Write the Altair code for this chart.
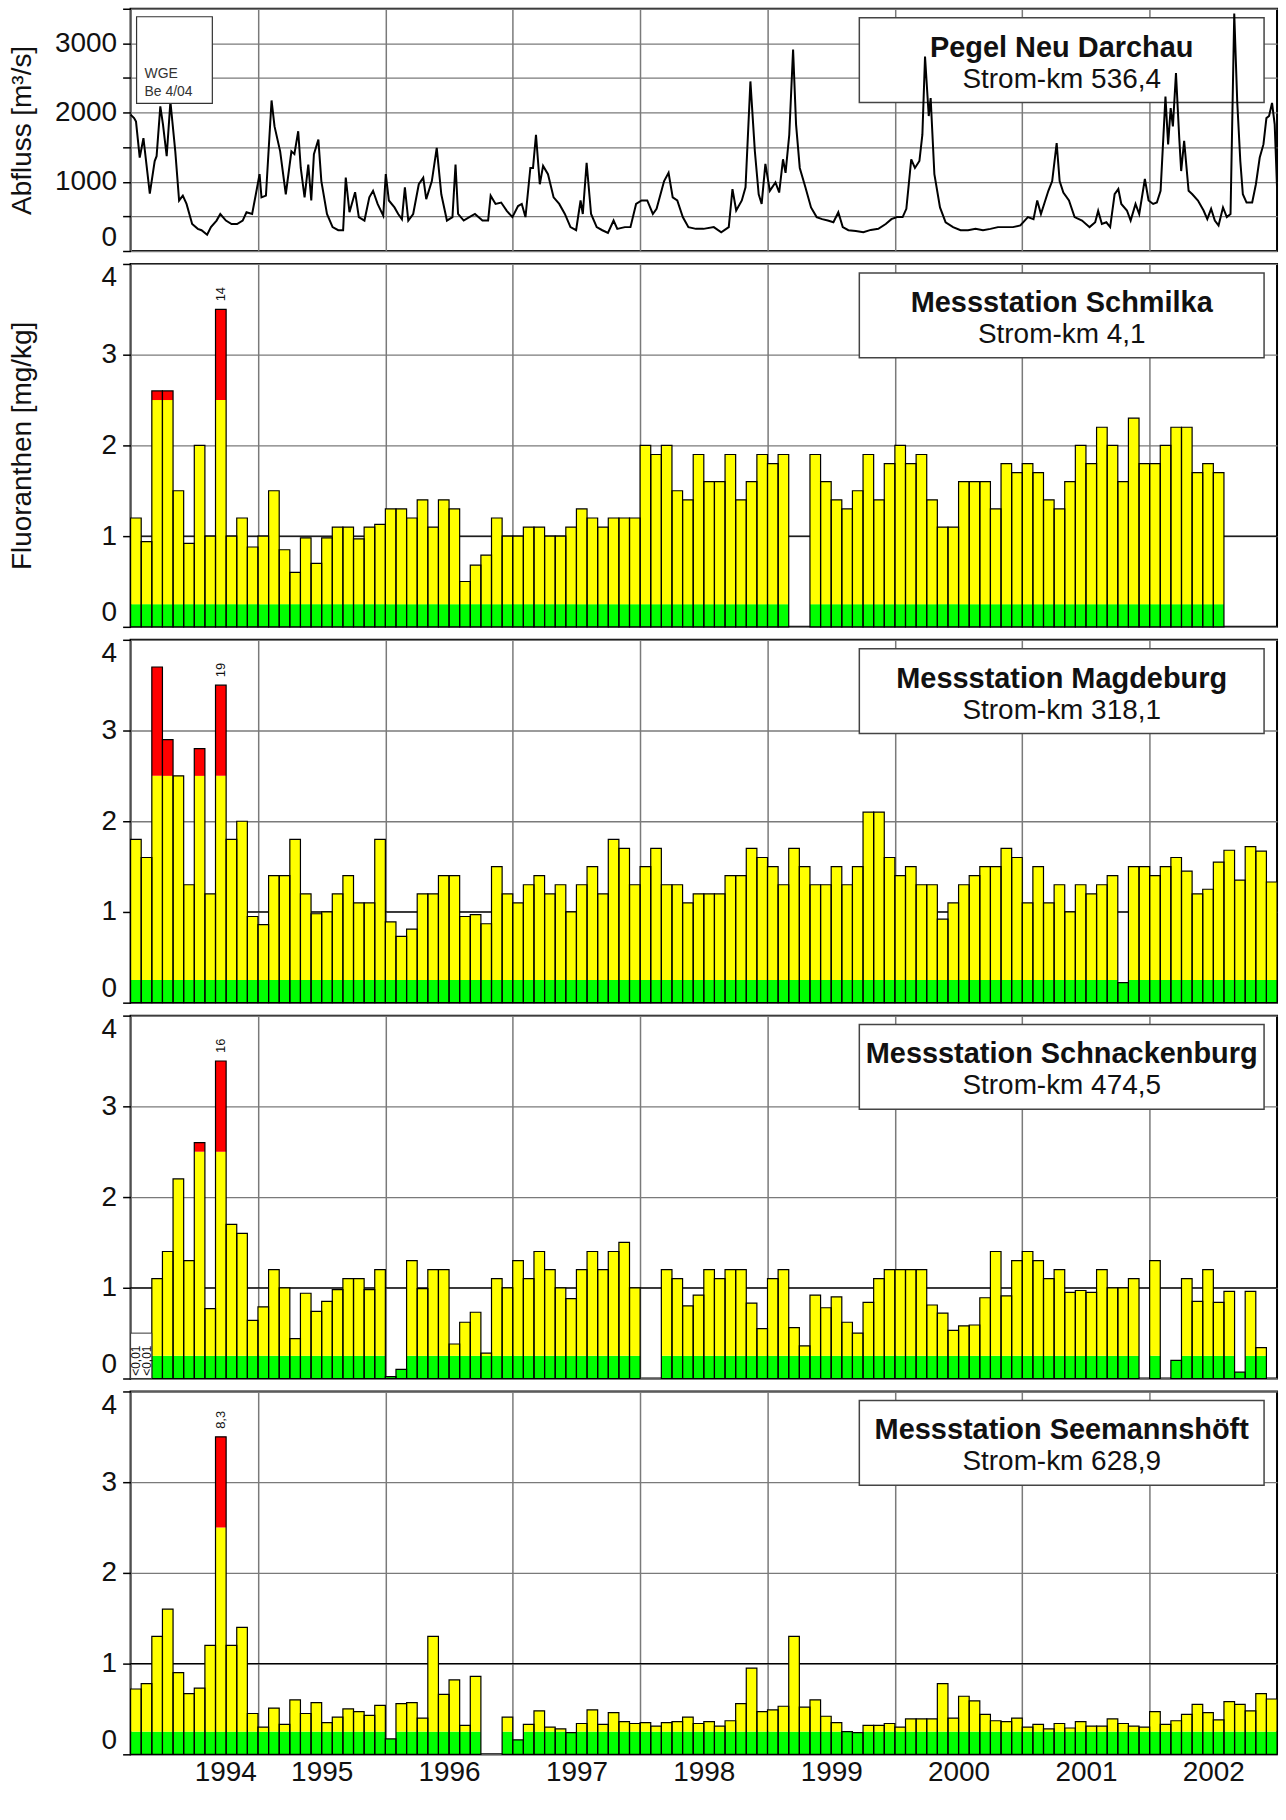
import altair as alt
import pandas as pd

FONT = "Liberation Sans"
N_MONTHS = 108
PANEL_W = 1150
TOP_H = 243
BAR_H = 364
CAP = 3.5
GRID_GRAY = "#7a7a7a"
Q_MAX = 3500
C_MAX = 4

years = [1994, 1995, 1996, 1997, 1998, 1999, 2000, 2001, 2002]

# ---- discharge, Pegel Neu Darchau (months since Jan 1994, m3/s) ----
q_month = [0, 0.33, 0.51, 0.86, 1.21, 1.81, 2.27, 2.45, 2.80, 3.05, 3.40, 3.75, 4.21, 4.57,
           4.92, 5.27, 5.80, 6.33, 6.68, 7.21, 7.57, 8.10, 8.45, 8.98, 9.51, 10.03, 10.56,
           10.92, 11.45, 11.80, 12.15, 12.33, 12.75, 13.28, 13.56, 14.09, 14.62, 15.15, 15.43,
           15.79, 16.03, 16.39, 16.74, 17.02, 17.27, 17.69, 17.97, 18.50, 19.03, 19.56, 20.02,
           20.27, 20.62, 21.15, 21.50, 22.03, 22.49, 22.84, 23.27, 23.80, 24.04, 24.33, 24.86,
           25.21, 25.56, 25.84, 26.16, 26.62, 27.15, 27.57, 27.85, 28.38, 28.84, 29.27, 29.80,
           30.32, 30.61, 30.85, 31.38, 31.91, 32.44, 33.15, 33.68, 33.92, 34.38, 34.91, 35.44,
           35.97, 36.50, 36.85, 37.20, 37.66, 37.91, 38.19, 38.55, 38.86, 39.32, 39.85, 40.38,
           40.91, 41.44, 41.97, 42.39, 42.60, 42.96, 43.38, 43.91, 44.44, 44.97, 45.50, 45.85,
           46.56, 47.09, 47.62, 48.14, 48.67, 49.20, 49.55, 50.26, 50.68, 51.07, 51.50, 52.02,
           52.55, 53.26, 53.97, 54.94, 55.64, 56.35, 56.70, 57.05, 57.58, 57.93, 58.39, 58.81,
           59.17, 59.45, 59.80, 60.22, 60.75, 61.10, 61.46, 61.70, 62.05, 62.41, 62.69, 63.04,
           63.57, 64.10, 64.63, 65.15, 65.68, 66.21, 66.67, 67.09, 67.62, 68.32, 69.03, 69.73,
           70.44, 71.14, 71.67, 72.20, 72.73, 73.08, 73.54, 73.89, 74.31, 74.59, 74.84, 75.19,
           75.37, 75.72, 76.25, 76.78, 77.48, 78.19, 78.89, 79.60, 80.30, 81.00, 81.71, 82.41,
           83.12, 83.82, 84.53, 85.06, 85.41, 85.76, 86.46, 86.82, 87.24, 87.52, 87.87, 88.40,
           88.93, 89.63, 90.34, 90.87, 91.15, 91.50, 91.92, 92.28, 92.70, 93.05, 93.33, 93.86,
           94.21, 94.67, 95.02, 95.55, 95.90, 96.33, 96.68, 97.03, 97.49, 97.74, 97.98, 98.19,
           98.48, 98.79, 98.97, 99.25, 99.67, 100.02, 100.55, 101.08, 101.43, 101.79, 102.14,
           102.49, 102.91, 103.27, 103.62, 103.97, 104.25, 104.54, 104.78, 105.13, 105.66,
           106.01, 106.37, 106.72, 107.00, 107.25, 107.53, 107.78, 108.0]
q_value = [1970, 1920, 1870, 1350, 1630, 830, 1300, 1370, 2090, 1830, 1370, 2160, 1440, 730,
           800, 680, 390, 320, 300, 235, 345, 440, 535, 440, 390, 390, 440,
           560, 535, 820, 1110, 775, 800, 2175, 1800, 1440, 820, 1440, 1400,
           1730, 1200, 775, 1250, 730, 1400, 1610, 1010, 535, 345, 300, 300,
           1060, 560, 850, 490, 440, 775, 870, 680, 510, 1110, 730, 630,
           535, 460, 920, 440, 535, 965, 1060, 750, 1010, 1490, 820, 440,
           490, 1250, 535, 440, 490, 535, 440, 440, 800, 680, 700, 580,
           490, 650, 680, 490, 1200, 1200, 1680, 965, 1230, 1110, 775, 680,
           535, 345, 300, 730, 535, 1275, 535, 345, 300, 260, 440, 320,
           345, 345, 680, 730, 730, 535, 610, 1010, 1130, 775, 730, 490,
           345, 320, 320, 345, 270, 345, 895, 585, 730, 920, 2450, 1440,
           820, 680, 1260, 870, 990, 845, 1325, 1130, 1680, 2910, 1830, 1200,
           920, 630, 490, 460, 440, 415, 560, 345, 300, 290, 270, 305,
           320, 390, 460, 490, 490, 610, 1325, 1200, 1300, 1680, 2810, 1950,
           2210, 1110, 630, 415, 345, 300, 300, 320, 300, 320, 345, 345,
           345, 370, 490, 460, 730, 535, 870, 1010, 1560, 1010, 845, 730,
           490, 440, 345, 415, 580, 390, 415, 345, 820, 895, 680, 585,
           440, 680, 535, 1040, 730, 680, 700, 870, 2230, 1540, 2065, 1800,
           2570, 1630, 1155, 1590, 870, 820, 730, 585, 460, 610, 440,
           370, 630, 490, 535, 3430, 2160, 1300, 820, 700, 700,
           965, 1350, 1540, 1920, 1950, 2140, 1830, 920]

gauge_name = "Pegel Neu Darchau"
gauge_km = "Strom-km 536,4"

station_names = ["Messstation Schmilka", "Messstation Magdeburg",
                 "Messstation Schnackenburg", "Messstation Seemannshöft"]
station_km = ["Strom-km 4,1", "Strom-km 318,1", "Strom-km 474,5", "Strom-km 628,9"]

# ---- Fluoranthen, monthly values Jan 1994 .. Dec 2002 (mg/kg) ----
schmilka = [1.2, 0.94, 2.6, 2.6, 1.5, 0.92, 2.0, 1.0, 14, 1.0, 1.2, 0.88,
            1.0, 1.5, 0.85, 0.6, 0.98, 0.7, 0.98, 1.1, 1.1, 0.97, 1.1, 1.13,
            1.3, 1.3, 1.2, 1.4, 1.1, 1.4, 1.3, 0.5, 0.68, 0.79, 1.2, 1.0,
            1.0, 1.1, 1.1, 1.0, 1.0, 1.1, 1.3, 1.2, 1.1, 1.2, 1.2, 1.2,
            2.0, 1.9, 2.0, 1.5, 1.4, 1.9, 1.6, 1.6, 1.9, 1.4, 1.6, 1.9,
            1.8, 1.9, None, None, 1.9, 1.6, 1.4, 1.3, 1.5, 1.9, 1.4, 1.8,
            2.0, 1.8, 1.9, 1.4, 1.1, 1.1, 1.6, 1.6, 1.6, 1.3, 1.8, 1.7,
            1.8, 1.7, 1.4, 1.3, 1.6, 2.0, 1.8, 2.2, 2.0, 1.6, 2.3, 1.8,
            1.8, 2.0, 2.2, 2.2, 1.7, 1.8, 1.7, None, None, None, None, None]
magdeburg = [1.8, 1.6, 3.7, 2.9, 2.5, 1.3, 2.8, 1.2, 19, 1.8, 2.0, 0.95,
             0.86, 1.4, 1.4, 1.8, 1.2, 0.98, 1.0, 1.2, 1.4, 1.1, 1.1, 1.8,
             0.89, 0.73, 0.81, 1.2, 1.2, 1.4, 1.4, 0.95, 0.97, 0.87, 1.5, 1.2,
             1.1, 1.3, 1.4, 1.2, 1.3, 1.0, 1.3, 1.5, 1.2, 1.8, 1.7, 1.3,
             1.5, 1.7, 1.3, 1.3, 1.1, 1.2, 1.2, 1.2, 1.4, 1.4, 1.7, 1.6,
             1.5, 1.3, 1.7, 1.5, 1.3, 1.3, 1.5, 1.3, 1.5, 2.1, 2.1, 1.6,
             1.4, 1.5, 1.3, 1.3, 0.92, 1.1, 1.3, 1.4, 1.5, 1.5, 1.7, 1.6,
             1.1, 1.5, 1.1, 1.3, 1.0, 1.3, 1.2, 1.3, 1.4, 0.22, 1.5, 1.5,
             1.4, 1.5, 1.6, 1.45, 1.2, 1.25, 1.55, 1.68, 1.35, 1.72, 1.67, 1.33]
schnackenburg = ["<0,01", "<0,01", 1.1, 1.4, 2.2, 1.3, 2.6, 0.77, 16, 1.7, 1.6, 0.64,
                 0.79, 1.2, 1.0, 0.44, 0.94, 0.74, 0.85, 0.98, 1.1, 1.1, 0.98, 1.2,
                 0.02, 0.1, 1.3, 0.99, 1.2, 1.2, 0.38, 0.62, 0.73, 0.28, 1.1, 1.0,
                 1.3, 1.1, 1.4, 1.2, 1.0, 0.88, 1.2, 1.4, 1.2, 1.4, 1.5, 1.0,
                 None, None, 1.2, 1.1, 0.8, 0.92, 1.2, 1.1, 1.2, 1.2, 0.83, 0.55,
                 1.1, 1.2, 0.56, 0.36, 0.92, 0.78, 0.9, 0.62, 0.5, 0.84, 1.1, 1.2,
                 1.2, 1.2, 1.2, 0.81, 0.72, 0.53, 0.58, 0.59, 0.89, 1.4, 0.91, 1.3,
                 1.4, 1.3, 1.1, 1.2, 0.95, 0.97, 0.95, 1.2, 1.0, 1.0, 1.1, None,
                 1.3, None, 0.2, 1.1, 0.85, 1.2, 0.84, 0.96, 0.07, 0.96, 0.34, None]
seemannshoeft = [0.72, 0.78, 1.3, 1.6, 0.9, 0.67, 0.73, 1.2, 8.3, 1.2, 1.4, 0.45,
                 0.3, 0.51, 0.33, 0.6, 0.45, 0.57, 0.35, 0.41, 0.5, 0.47, 0.43, 0.54,
                 0.17, 0.56, 0.57, 0.4, 1.3, 0.66, 0.82, 0.32, 0.86, None, None, 0.41,
                 0.16, 0.33, 0.48, 0.3, 0.28, 0.24, 0.34, 0.49, 0.33, 0.46, 0.36, 0.34,
                 0.35, 0.31, 0.35, 0.36, 0.41, 0.34, 0.36, 0.31, 0.37, 0.56, 0.95, 0.47,
                 0.49, 0.53, 1.3, 0.52, 0.6, 0.42, 0.35, 0.25, 0.24, 0.32, 0.32, 0.34,
                 0.3, 0.39, 0.39, 0.39, 0.78, 0.4, 0.64, 0.59, 0.44, 0.37, 0.36, 0.4,
                 0.3, 0.33, 0.28, 0.34, 0.29, 0.36, 0.31, 0.31, 0.39, 0.34, 0.31, 0.3,
                 0.47, 0.33, 0.37, 0.44, 0.55, 0.46, 0.38, 0.58, 0.55, 0.48, 0.67, 0.61]

band_names = ["g", "y", "r"]
band_limits = [0.25, 2.5, C_MAX]
band_colors = ["#00ff00", "#ffff00", "#ff0000"]

XSCALE = alt.Scale(domain=[0, N_MONTHS], nice=False, zero=False)
YBAR = alt.Scale(domain=[0, C_MAX], nice=False, zero=True)
YTOP = alt.Scale(domain=[0, Q_MAX], nice=False, zero=True)
YEAR_TICKS = [12 * k for k in range(len(years))]


def fmt(v):
    return ("%g" % v).replace(".", ",")


def px_x(p):
    return p / PANEL_W * N_MONTHS


def px_y(p, top, height):
    return top - p / height * top


def x_axis(show_labels):
    return alt.Axis(values=YEAR_TICKS, grid=True, gridColor=GRID_GRAY, gridWidth=1.5,
                    ticks=False, domain=False, labels=show_labels,
                    labelExpr="'' + (%d + datum.value / 12)" % years[0],
                    labelOffset=PANEL_W / N_MONTHS * 6, labelFont=FONT, labelFontSize=28,
                    labelColor="#111111", labelPadding=4, title=None)


def y_axis(values, title, title_color="#111111", **kw):
    return alt.Axis(values=values, title=title, grid=True, gridWidth=1.3, gridColor=GRID_GRAY,
                    domain=False, tickSize=8, tickWidth=1.5, tickColor="black",
                    labelFont=FONT, labelFontSize=28, labelFlush=True,
                    labelColor="#111111", labelPadding=6, titleFont=FONT, titleFontSize=28,
                    titleFontWeight="normal", titleColor=title_color, titlePadding=14,
                    minExtent=80, maxExtent=80, **kw)


def info_box(name, km, yscale, top, height, xa, ya):
    df = pd.DataFrame({"name": [name], "km": [km],
                       "x0": [px_x(731)], "x1": [px_x(1137)], "xc": [px_x(934)],
                       "y0": [px_y(9, top, height)], "y1": [px_y(94, top, height)],
                       "yt": [px_y(39, top, height)], "yk": [px_y(71, top, height)]})
    base = alt.Chart(df)
    box = base.mark_rect(fill="white", stroke="#444444", strokeWidth=1.5).encode(
        x=alt.X("x0:Q", scale=XSCALE, axis=xa), x2="x1:Q",
        y=alt.Y("y0:Q", scale=yscale, axis=ya), y2="y1:Q")
    t1 = base.mark_text(font=FONT, fontSize=29, fontWeight="bold", color="#111111").encode(
        x=alt.X("xc:Q", scale=XSCALE, axis=xa),
        y=alt.Y("yt:Q", scale=yscale, axis=ya), text="name:N")
    t2 = base.mark_text(font=FONT, fontSize=28, color="#111111").encode(
        x=alt.X("xc:Q", scale=XSCALE, axis=xa),
        y=alt.Y("yk:Q", scale=yscale, axis=ya), text="km:N")
    return [box, t1, t2]


one_line = pd.DataFrame({"v": [1]})


def bar_panel(values, name, km, show_title, show_x):
    segs, outl, over, notes = [], [], [], []
    for i, v in enumerate(values):
        if v is None:
            continue
        if isinstance(v, str):
            notes.append({"m": i + 0.5, "m0": i, "m1": i + 1, "t": v, "yt": 0.03})
            continue
        d = v if v <= C_MAX else CAP
        outl.append({"m0": i, "m1": i + 1, "v": d, "z": 0})
        lo = 0.0
        for bn, lim in zip(band_names, band_limits):
            if d > lo:
                segs.append({"m0": i, "m1": i + 1, "y0": lo, "y1": min(d, lim), "band": bn})
            lo = lim
        if v > C_MAX:
            over.append({"m": i + 0.5, "v": CAP, "t": fmt(v)})

    xa = x_axis(show_x)
    ya = y_axis([0, 1, 2, 3, 4], "Fluoranthen [mg/kg]",
                title_color="#111111" if show_title else "transparent")
    hline = alt.Chart(one_line).mark_rule(color="black", strokeWidth=1.2).encode(
        y=alt.Y("v:Q", scale=YBAR, axis=ya))
    seg = alt.Chart(pd.DataFrame(segs)).mark_rect().encode(
        x=alt.X("m0:Q", scale=XSCALE, axis=xa),
        x2="m1:Q",
        y=alt.Y("y0:Q", scale=YBAR, axis=ya),
        y2="y1:Q",
        color=alt.Color("band:N", scale=alt.Scale(domain=band_names, range=band_colors),
                        legend=None))
    outline = alt.Chart(pd.DataFrame(outl)).mark_rect(
        fillOpacity=0, stroke="black", strokeWidth=1.2).encode(
        x=alt.X("m0:Q", scale=XSCALE, axis=xa), x2="m1:Q",
        y=alt.Y("v:Q", scale=YBAR, axis=ya), y2="z:Q")
    layers = [hline, seg, outline]
    if over:
        layers.append(alt.Chart(pd.DataFrame(over)).mark_text(
            angle=270, align="left", baseline="middle", dx=8, font=FONT, fontSize=13,
            color="#111111").encode(
            x=alt.X("m:Q", scale=XSCALE, axis=xa),
            y=alt.Y("v:Q", scale=YBAR, axis=ya), text="t:N"))
    if notes:
        ndf = pd.DataFrame(notes)
        bdf = pd.DataFrame({"a": [int(ndf.m0.min())], "b": [int(ndf.m1.max())],
                            "y0": [0.0], "y1": [0.5]})
        layers.append(alt.Chart(bdf).mark_rect(fill="white", stroke="#333333",
                                               strokeWidth=1).encode(
            x=alt.X("a:Q", scale=XSCALE, axis=xa), x2="b:Q",
            y=alt.Y("y0:Q", scale=YBAR, axis=ya), y2="y1:Q"))
        layers.append(alt.Chart(ndf).mark_text(
            angle=270, align="left", baseline="middle", font=FONT, fontSize=12,
            color="#111111").encode(
            x=alt.X("m:Q", scale=XSCALE, axis=xa),
            y=alt.Y("yt:Q", scale=YBAR, axis=ya), text="t:N"))
    layers += info_box(name, km, YBAR, C_MAX, BAR_H, xa, ya)
    return alt.layer(*layers).properties(width=PANEL_W, height=BAR_H)


# ---- top panel: discharge ----
qdf = pd.DataFrame({"m": q_month, "q": q_value})
xa_top = x_axis(False)
ya_top = y_axis(list(range(0, Q_MAX + 1, 500)), "Abfluss [m³/s]",
                labelExpr="(datum.value % 1000 == 0 && datum.value < 3500) ? datum.label : ''",
                format="d")
line = alt.Chart(qdf).mark_line(color="black", strokeWidth=2).encode(
    x=alt.X("m:Q", scale=XSCALE, axis=xa_top),
    y=alt.Y("q:Q", scale=YTOP, axis=ya_top))

logo_df = pd.DataFrame({"l1": ["WGE"], "l2": ["Be 4/04"],
                        "x0": [px_x(6)], "x1": [px_x(82)], "xt": [px_x(14)],
                        "y0": [px_y(8, Q_MAX, TOP_H)], "y1": [px_y(95, Q_MAX, TOP_H)],
                        "ya": [px_y(65, Q_MAX, TOP_H)], "yb": [px_y(84, Q_MAX, TOP_H)]})
logo_box = alt.Chart(logo_df).mark_rect(fill="white", stroke="#333333", strokeWidth=1.2).encode(
    x=alt.X("x0:Q", scale=XSCALE, axis=xa_top), x2="x1:Q",
    y=alt.Y("y0:Q", scale=YTOP, axis=ya_top), y2="y1:Q")
logo_t1 = alt.Chart(logo_df).mark_text(align="left", font=FONT, fontSize=14,
                                       color="#333333").encode(
    x=alt.X("xt:Q", scale=XSCALE, axis=xa_top), y=alt.Y("ya:Q", scale=YTOP, axis=ya_top),
    text="l1:N")
logo_t2 = alt.Chart(logo_df).mark_text(align="left", font=FONT, fontSize=14,
                                       color="#333333").encode(
    x=alt.X("xt:Q", scale=XSCALE, axis=xa_top), y=alt.Y("yb:Q", scale=YTOP, axis=ya_top),
    text="l2:N")

top = alt.layer(*info_box(gauge_name, gauge_km, YTOP, Q_MAX, TOP_H, xa_top, ya_top), line,
                logo_box, logo_t1, logo_t2).properties(width=PANEL_W, height=TOP_H)

all_values = [schmilka, magdeburg, schnackenburg, seemannshoeft]
panels = []
for k, vals in enumerate(all_values):
    panels.append(bar_panel(vals, station_names[k], station_km[k],
                            show_title=(k == 0),
                            show_x=(k == len(all_values) - 1)))

chart = alt.vconcat(top, *panels, spacing=9).properties(
    padding={"left": 8, "top": 4, "right": 4, "bottom": 2},
    background="white",
).configure_view(stroke="black", strokeWidth=2)

chart.save("out.html", embed_options={"renderer": "svg", "actions": False})
